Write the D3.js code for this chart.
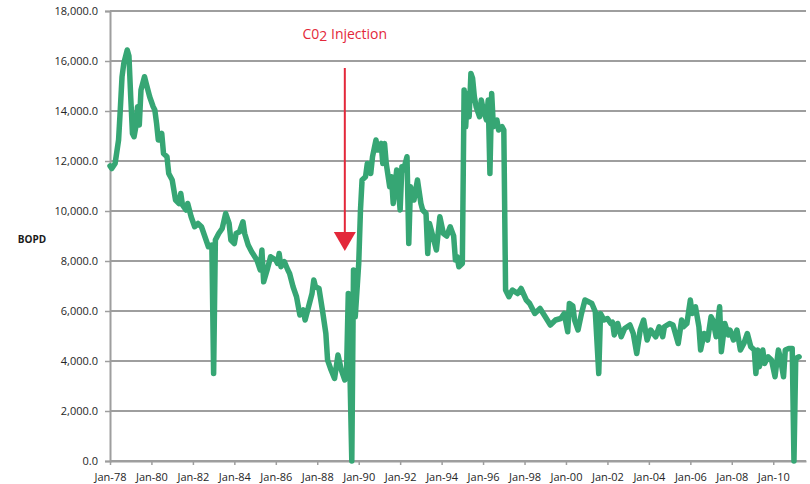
<!DOCTYPE html>
<html lang="en">
<head>
    <meta charset="UTF-8">
    <title>BOPD</title>
    <script src="https://d3js.org/d3.v7.min.js"></script>
    <style>
        body { margin: 0; background: #fff; }
    </style>
</head>
<body>
<script>
    const width = 810
    const height = 484

    // monthly points
    const months = [
        '1978-01', '1978-02', '1978-04', '1978-06', '1978-07', '1978-08', '1978-09', '1978-11', '1978-12',
        '1979-01', '1979-02', '1979-03', '1979-04', '1979-05', '1979-06', '1979-07', '1979-09', '1979-10', '1979-12',
        '1980-02', '1980-03', '1980-04', '1980-05', '1980-07', '1980-08', '1980-10', '1980-11',
        '1981-01', '1981-03', '1981-05', '1981-06', '1981-07', '1981-09', '1981-10', '1981-12',
        '1982-02', '1982-04', '1982-06', '1982-08', '1982-10', '1982-12',
        '1983-01', '1983-02', '1983-04', '1983-06', '1983-08', '1983-10', '1983-11',
        '1984-01', '1984-02', '1984-04', '1984-06', '1984-07', '1984-09', '1984-11',
        '1985-02', '1985-04', '1985-05', '1985-06', '1985-08', '1985-10',
        '1986-01', '1986-02', '1986-03', '1986-04', '1986-06', '1986-08', '1986-09', '1986-11',
        '1987-01', '1987-03', '1987-05', '1987-06', '1987-08', '1987-10', '1987-11', '1987-12',
        '1988-02', '1988-04', '1988-06', '1988-07', '1988-09', '1988-11',
        '1989-01', '1989-03', '1989-05', '1989-06', '1989-07', '1989-08', '1989-09', '1989-10', '1989-11',
        '1990-01', '1990-02', '1990-03', '1990-05', '1990-06', '1990-08', '1990-09', '1990-11', '1990-12',
        '1991-02', '1991-03', '1991-04', '1991-05', '1991-07', '1991-08', '1991-09', '1991-11',
        '1992-01', '1992-02', '1992-03', '1992-05', '1992-06', '1992-07', '1992-09', '1992-11',
        '1993-01', '1993-02', '1993-04', '1993-05', '1993-06', '1993-08', '1993-10', '1993-12',
        '1994-02', '1994-04', '1994-06', '1994-08', '1994-09', '1994-10', '1994-11',
        '1995-01', '1995-02', '1995-03', '1995-04', '1995-05', '1995-06', '1995-07', '1995-08', '1995-09', '1995-11', '1995-12',
        '1996-01', '1996-03', '1996-04', '1996-05', '1996-06', '1996-07', '1996-09', '1996-10', '1996-12',
        '1997-01', '1997-02', '1997-04', '1997-06', '1997-09', '1997-11',
        '1998-02', '1998-04', '1998-07', '1998-10',
        '1999-01', '1999-04', '1999-07', '1999-10', '1999-12',
        '2000-02', '2000-03', '2000-05', '2000-06', '2000-08', '2000-10', '2000-12',
        '2001-02', '2001-04', '2001-06', '2001-08', '2001-09', '2001-11',
        '2002-01', '2002-03', '2002-04', '2002-05', '2002-07', '2002-09', '2002-11',
        '2003-02', '2003-04', '2003-06', '2003-08', '2003-10', '2003-12',
        '2004-02', '2004-05', '2004-07', '2004-09', '2004-10',
        '2005-01', '2005-03', '2005-06', '2005-08', '2005-09', '2005-11',
        '2006-01', '2006-02', '2006-04', '2006-06', '2006-07', '2006-09', '2006-11',
        '2007-01', '2007-02', '2007-04', '2007-06', '2007-07', '2007-09', '2007-11', '2007-12',
        '2008-02', '2008-04', '2008-06', '2008-08', '2008-10', '2008-12',
        '2009-02', '2009-03', '2009-04', '2009-05', '2009-07', '2009-08', '2009-10', '2009-12',
        '2010-02', '2010-04', '2010-05', '2010-07', '2010-08', '2010-10', '2010-12',
        '2011-01', '2011-02', '2011-04'
    ]
    const bopd = [
        11800, 11700, 11900, 12840, 14040, 15370, 15900, 16440, 16200,
        14570, 13100, 12970, 13370, 14170, 13440, 14840, 15370, 15100, 14570,
        14170, 14040, 13500, 12840, 13100, 12300, 12170, 11500,
        11240, 10440, 10300, 10700, 10240, 10040, 10300, 9770,
        9370, 9500, 9370, 8970, 8570, 8640,
        3500, 8840, 9100, 9300, 9900, 9500, 8840,
        8700, 9100, 9170, 9570, 9100, 8640, 8370,
        8040, 7640, 8440, 7170, 7640, 8170,
        8040, 7900, 8300, 7770, 7970, 7640, 7500, 6970,
        6570, 5840, 6040, 5640, 6170, 6700, 7240, 6970,
        6900, 6040, 5100, 4040, 3640, 3300,
        4240, 3640, 3240, 3640, 6700, 3370, 0, 7640, 5770,
        7900, 10040, 11240, 11370, 11900, 11500, 12170, 12840, 12440,
        12700, 11900, 12700, 11900, 10970, 11370, 10300, 11640,
        10040, 11770, 11640, 12170, 8700, 10970, 10440, 11240,
        10300, 10040, 9900, 8300, 9500, 8970, 8440, 9770,
        9100, 9000, 9370, 9000, 8040, 8170, 7770,
        7900, 14840, 13370, 14700, 13770, 15500, 15300, 14570, 14170, 13770, 14440,
        14100, 13640, 14440, 11500, 14700, 13370, 13640, 13240, 13370,
        13240, 6840, 6570, 6840, 6700, 6900,
        6440, 6300, 5900, 6100,
        5770, 5440, 5640, 5700, 5900,
        5170, 6300, 6200, 5640, 5240, 5900, 6440,
        6370, 6300, 5970, 3500, 5900, 5640,
        5700, 5500, 5550, 5040, 5500, 4970, 5300,
        5440, 5100, 4300, 5240, 5640, 4840,
        5240, 4970, 5370, 4970, 5370,
        5500, 5440, 4700, 5640, 5370, 5500,
        6440, 5900, 6170, 5370, 4440, 5100, 4840,
        5770, 5640, 4970, 6170, 4370, 5500, 5040, 5240,
        4840, 5240, 4440, 4700, 5100, 4570,
        4440, 3500, 4440, 3770, 4440, 3900, 4170, 4040,
        3370, 4440, 4170, 3370, 4440, 4500, 4500,
        0, 4100, 4170
    ]
    const yTicks = [0, 2000, 4000, 6000, 8000, 10000, 12000, 14000, 16000, 18000]
    const xTickYears = [1978, 1980, 1982, 1984, 1986, 1988, 1990, 1992, 1994, 1996, 1998, 2000, 2002, 2004, 2006, 2008, 2010]
    const injection = {month: '1989-05', top: 15720, tip: 8400, label: 16900}

    const parse = d3.timeParse('%Y-%m')
    const data = months.map((m, i) => ({date: parse(m), v: bopd[i]}))

    const svg = d3.select('body')
        .append('svg')
        .attr('width', width)
        .attr('height', height)

    const x = d3.scaleTime()
        .domain([new Date(1978, 0, 1), new Date(2011, 7, 1)])
        .range([110, 806])
    const y = d3.scaleLinear()
        .domain([0, 18000])
        .range([461, 11])

    // gridlines
    svg.append('g')
        .selectAll('line')
        .data(yTicks)
        .join('line')
        .attr('x1', x.range()[0])
        .attr('x2', x.range()[1])
        .attr('y1', d => y(d))
        .attr('y2', d => y(d))
        .attr('stroke', '#9e9e9e')
        .attr('stroke-width', 2)

    const yAxis = d3.axisLeft(y)
        .tickValues(yTicks)
        .tickFormat(d3.format(',.1f'))
        .tickSize(5)
        .tickPadding(7)
    svg.append('g')
        .attr('transform', 'translate(110,0)')
        .call(yAxis)
        .call(g => g.select('.domain').attr('stroke', '#9e9e9e').attr('stroke-width', 2))
        .call(g => g.selectAll('.tick line').attr('stroke', '#9e9e9e').attr('stroke-width', 1.5))
        .call(g => g.selectAll('text').attr('fill', '#262626').attr('font-size', 11).attr('font-family', 'Open Sans'))

    const xAxis = d3.axisBottom(x)
        .tickValues(xTickYears.map(yr => new Date(yr, 0, 1)))
        .tickFormat(d3.timeFormat('Jan-%y'))
        .tickSize(4)
        .tickSizeOuter(0)
        .tickPadding(8)
    svg.append('g')
        .attr('transform', 'translate(0,' + y(0) + ')')
        .call(xAxis)
        .call(g => g.select('.domain').attr('stroke', '#9e9e9e').attr('stroke-width', 2))
        .call(g => g.selectAll('.tick line').attr('stroke', '#9e9e9e').attr('stroke-width', 1.5))
        .call(g => g.selectAll('text').attr('fill', '#262626').attr('font-size', 11).attr('font-family', 'Open Sans'))

    svg.append('text')
        .text('BOPD')
        .attr('x', 32)
        .attr('y', 243)
        .attr('text-anchor', 'middle')
        .attr('font-family', 'Open Sans')
        .attr('font-weight', 'bold')
        .attr('font-size', 10)
        .attr('fill', '#1a1a1a')

    const line = d3.line()
        .x(d => x(d.date))
        .y(d => y(d.v))
    svg.append('path')
        .attr('d', line(data))
        .attr('fill', 'none')
        .attr('stroke', '#36a674')
        .attr('stroke-width', 5.5)
        .attr('stroke-linejoin', 'round')
        .attr('stroke-linecap', 'round')

    // CO2 injection annotation
    const ax = x(parse(injection.month))
    const red = '#e3283a'
    svg.append('line')
        .attr('x1', ax)
        .attr('x2', ax)
        .attr('y1', y(injection.top))
        .attr('y2', y(injection.tip) - 16)
        .attr('stroke', red)
        .attr('stroke-width', 2)
    svg.append('path')
        .attr('d', 'M' + (ax - 11) + ',' + (y(injection.tip) - 19) + 'L' + (ax + 11) + ',' + (y(injection.tip) - 19) + 'L' + ax + ',' + y(injection.tip) + 'Z')
        .attr('fill', red)
    const lbl = svg.append('text')
        .attr('x', ax)
        .attr('y', y(injection.label))
        .attr('text-anchor', 'middle')
        .attr('font-family', 'Open Sans')
        .attr('font-size', 14)
        .attr('fill', red)
    lbl.append('tspan').text('C0')
    lbl.append('tspan').text('2').attr('dy', 2)
    lbl.append('tspan').text(' Injection').attr('dy', -2)
</script>
</body>
</html>
